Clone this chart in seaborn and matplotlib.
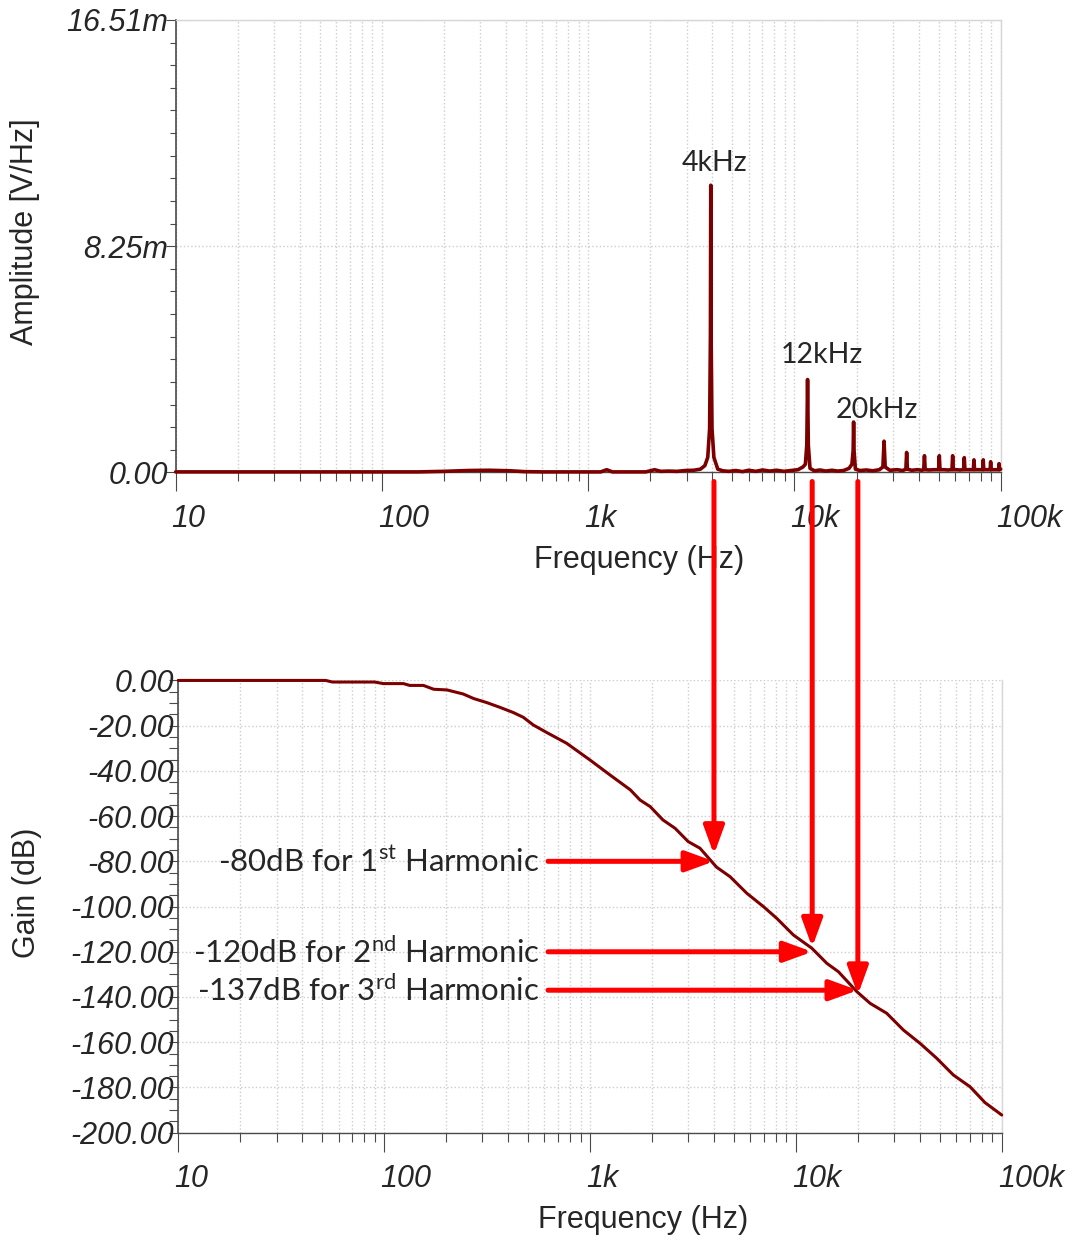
import matplotlib
matplotlib.use("Agg")
import matplotlib.pyplot as plt
import pandas as pd
import seaborn as sns
from matplotlib.ticker import FixedLocator, FixedFormatter, LogLocator, NullFormatter, MultipleLocator
from matplotlib.patches import ConnectionPatch
from matplotlib.transforms import blended_transform_factory, ScaledTranslation

# ---------------- spectrum of the square-wave output (amplitude in mV/Hz) ----------------
spec_freq_hz = [
    10, 150, 200, 260, 330, 420, 490, 600,
    1150, 1230, 1310, 1900, 2000, 2100, 2250, 2450, 2700, 2950, 3250, 3500,
    3680, 3800, 3880, 3915, 3930, 3945, 3985, 4070, 4250,
    4500, 4800, 5200, 5600, 6000, 6500, 7000, 7600, 8200, 8900, 9600, 10400, 11000,
    11300, 11480, 11580, 11680, 11900,
    12500, 13300, 14200, 15200, 16200, 17300, 18400,
    19000, 19260, 19360, 19460, 19750,
    20800, 22300, 24000, 25800,
    26850, 27200, 27550, 29000, 31500, 33500,
    34700, 35000, 35300, 37000, 39500, 41500,
    42350, 42700, 43050, 45000, 47500,
    50000, 50400, 50800, 53000, 55500,
    58050, 58500, 58950, 61000, 63500,
    66100, 66600, 67100, 69000, 71500,
    73700, 74200, 74700, 77000, 79500,
    81800, 82300, 82800, 85000, 87000,
    88900, 89400, 89900, 92500, 95000,
    97700, 98200, 98700, 100000,
]
spec_amp_mv = [
    0.02, 0.02, 0.04, 0.07, 0.08, 0.06, 0.03, 0.02,
    0.02, 0.10, 0.02, 0.02, 0.06, 0.10, 0.04, 0.05, 0.04, 0.07, 0.08, 0.12,
    0.25, 0.55, 1.6, 5.0, 10.48, 5.0, 1.6, 0.55, 0.12,
    0.06, 0.04, 0.07, 0.03, 0.08, 0.04, 0.09, 0.05, 0.08, 0.04, 0.07, 0.10, 0.20,
    0.30, 1.0, 3.39, 1.0, 0.15,
    0.06, 0.09, 0.05, 0.08, 0.05, 0.07, 0.15,
    0.30, 0.80, 1.84, 0.80, 0.12,
    0.07, 0.09, 0.06, 0.10,
    0.20, 1.14, 0.20, 0.08, 0.10, 0.07,
    0.12, 0.73, 0.12, 0.08, 0.10, 0.08,
    0.10, 0.61, 0.10, 0.09, 0.10,
    0.10, 0.61, 0.10, 0.10, 0.09,
    0.10, 0.61, 0.10, 0.10, 0.09,
    0.10, 0.54, 0.10, 0.10, 0.10,
    0.10, 0.46, 0.10, 0.10, 0.10,
    0.10, 0.46, 0.10, 0.10, 0.10,
    0.10, 0.39, 0.10, 0.10, 0.10,
    0.10, 0.32, 0.10, 0.12,
]

# ---------------- filter frequency response ----------------
gain_freq_hz = [
    10, 52, 56, 90, 99, 124, 133, 155, 174, 202, 242, 272, 315, 365, 424, 474,
    530, 618, 770, 1000, 1250, 1570, 1750, 1960, 2260, 2590, 3000, 3420, 4120,
    4790, 5770, 6950, 8070, 9730, 11940, 14130, 16080, 19760, 22930, 27620,
    33270, 40090, 48310, 58200, 70150, 82900, 100000,
]
gain_db = [
    0, 0, -0.7, -0.7, -1.4, -1.4, -2.2, -2.2, -3.9, -4.2, -6.0, -8.0, -9.8, -11.9, -14.2, -16.3,
    -19.7, -23.1, -27.8, -35.2, -41.8, -48.4, -52.9, -55.8, -61.7, -65.4, -71.3, -74.2, -82.6,
    -86.8, -94.1, -100.0, -105.2, -112.6, -118.4, -125.1, -128.8, -137.6, -142.8, -147.2,
    -154.6, -160.5, -167.1, -174.5, -179.7, -186.7, -192.2,
]

# ---------------- labels ----------------
peak_labels = ["4kHz", "12kHz", "20kHz"]
peak_label_freq_hz = [4100, 13600, 25100]
peak_label_amp_mv = [11.3, 4.29, 2.28]

harmonic_freq_hz = [4000, 12000, 20000]
harmonic_gain_db = [-80, -120, -137]
harmonic_number = ["1", "2", "3"]
harmonic_suffix = ["st", "nd", "rd"]
vertical_tip_gain_db = [-77, -118, -139]

freq_ticks = [10, 100, 1000, 10000, 100000]
freq_tick_labels = ["10", "100", "1k", "10k", "100k"]
amp_ticks = [0.0, 8.255, 16.51]
amp_tick_labels = ["0.00", "8.25m", "16.51m"]
gain_ticks = [0, -20, -40, -60, -80, -100, -120, -140, -160, -180, -200]
gain_tick_labels = [f"{v:.2f}" for v in gain_ticks]

assert len(spec_freq_hz) == len(spec_amp_mv)
assert len(gain_freq_hz) == len(gain_db)

CURVE = "#7d0000"
RED = "#ff0000"
GRID = "#cdcdcd"
AXIS = "#4a4a4a"

sns.set_style("white")
plt.rcParams["font.family"] = ["Liberation Sans", "DejaVu Sans"]

fig = plt.figure(figsize=(10.73, 12.41), dpi=100)
ax1 = fig.add_axes([0.1637, 0.6193, 0.7689, 0.3646])
ax2 = fig.add_axes([0.1662, 0.0873, 0.7674, 0.3644])

spec = pd.DataFrame({"freq": spec_freq_hz, "amp": spec_amp_mv})
resp = pd.DataFrame({"freq": gain_freq_hz, "gain": gain_db})

sns.lineplot(data=spec, x="freq", y="amp", ax=ax1, color=CURVE, lw=2.6,
             estimator=None, sort=False)
sns.lineplot(data=resp, x="freq", y="gain", ax=ax2, color=CURVE, lw=2.2,
             estimator=None, sort=False)
for ax in (ax1, ax2):
    for ln in ax.lines:
        ln.set_clip_on(False)
        ln.set_zorder(4)
        ln.set_solid_joinstyle("round")

for ax in (ax1, ax2):
    ax.set_xscale("log")
    ax.set_xlim(10, 1e5)
    ax.set_xlabel("")
    ax.set_ylabel("")
    ax.xaxis.set_major_locator(FixedLocator(freq_ticks))
    ax.xaxis.set_major_formatter(FixedFormatter(freq_tick_labels))
    ax.xaxis.set_minor_locator(LogLocator(base=10, subs=range(2, 10), numticks=20))
    ax.xaxis.set_minor_formatter(NullFormatter())
    ax.tick_params(axis="x", which="major", bottom=True, length=13.7, width=0.8,
                   color=AXIS, direction="out", pad=9, labelsize=22)
    ax.tick_params(axis="x", which="minor", bottom=True, length=6.8, width=0.8,
                   color=AXIS, direction="out")
    ax.grid(True, which="both", axis="x", color=GRID, ls=":", lw=1.0)
    ax.set_axisbelow(True)
    for side in ("top", "right"):
        ax.spines[side].set_color("#d6d6d6")
        ax.spines[side].set_linewidth(1.0)
    ax.spines["left"].set_color(AXIS)
    ax.spines["left"].set_linewidth(1.2)
    ax.spines["bottom"].set_color(AXIS)
    ax.spines["bottom"].set_linewidth(1.0)
    for lbl in ax.get_xticklabels():
        lbl.set_fontstyle("italic")
        lbl.set_horizontalalignment("left")
        lbl.set_transform(lbl.get_transform() + ScaledTranslation(-4 / 100, 0, fig.dpi_scale_trans))

# amplitude axis
ax1.set_ylim(0, 16.51)
ax1.yaxis.set_major_locator(FixedLocator(amp_ticks))
ax1.yaxis.set_major_formatter(FixedFormatter(amp_tick_labels))
ax1.yaxis.set_minor_locator(MultipleLocator(0.8255))
ax1.tick_params(axis="y", which="major", left=True, length=7.2, width=0.8, color=AXIS,
                pad=-1.5, labelsize=22)
ax1.tick_params(axis="y", which="minor", left=True, length=4.5, width=0.8, color=AXIS)
ax1.grid(True, which="major", axis="y", color=GRID, ls=":", lw=1.0)

# gain axis
ax2.set_ylim(-200, 0)
ax2.yaxis.set_major_locator(FixedLocator(gain_ticks))
ax2.yaxis.set_major_formatter(FixedFormatter(gain_tick_labels))
ax2.yaxis.set_minor_locator(MultipleLocator(5))
ax2.tick_params(axis="y", which="major", left=True, length=6.5, width=0.8, color=AXIS,
                pad=-3.6, labelsize=22)
ax2.tick_params(axis="y", which="minor", left=True, length=6.5, width=0.8, color=AXIS)
ax2.grid(True, which="major", axis="y", color=GRID, ls=":", lw=1.0)
ax2.spines["top"].set_visible(False)

for ax in (ax1, ax2):
    for lbl in ax.get_yticklabels():
        lbl.set_fontstyle("italic")

# axis titles
fig.text(0.5955, 0.5487, "Frequency (Hz)", fontsize=22, ha="center", va="center")
fig.text(0.5993, 0.0169, "Frequency (Hz)", fontsize=22, ha="center", va="center")
fig.text(0.0233, 0.8131, "Amplitude [V/Hz]", fontsize=22, ha="center", va="center", rotation=90)
fig.text(0.0252, 0.2804, "Gain (dB)", fontsize=22, ha="center", va="center", rotation=90)

# harmonic peak labels
for txt, f, a in zip(peak_labels, peak_label_freq_hz, peak_label_amp_mv):
    ax1.text(f, a, txt, family="Lato", fontsize=20.5, ha="center", va="center", zorder=6)

ARROW = "-|>,head_length=1.7,head_width=0.62"

# vertical arrows: from the spectrum peaks down to the response curve
top_frame = blended_transform_factory(ax2.transData, ax1.transAxes)
for f, g in zip(harmonic_freq_hz, vertical_tip_gain_db):
    con = ConnectionPatch(xyA=(f, -0.02), coordsA=top_frame,
                          xyB=(f, g), coordsB=ax2.transData,
                          arrowstyle=ARROW, mutation_scale=10,
                          color=RED, lw=3.6, zorder=7)
    fig.add_artist(con)

# horizontal arrows with attenuation notes
label_frame = blended_transform_factory(ax2.transAxes, ax2.transData)
for f, g, n, s in zip(harmonic_freq_hz, harmonic_gain_db, harmonic_number, harmonic_suffix):
    ax2.annotate("", xy=(f, g), xytext=(625, g),
                 arrowprops=dict(arrowstyle=ARROW, mutation_scale=10, color=RED, lw=3.6,
                                 shrinkA=0, shrinkB=0),
                 zorder=7, annotation_clip=False)
    ax2.text(0.439, g, f"-{abs(g)}dB for {n}" + r"$^{\mathregular{" + s + r"}}$" + " Harmonic",
             transform=label_frame, family="Lato", fontsize=22.5, ha="right", va="center",
             zorder=6)

fig.savefig("out.png", dpi=100, facecolor="white")
